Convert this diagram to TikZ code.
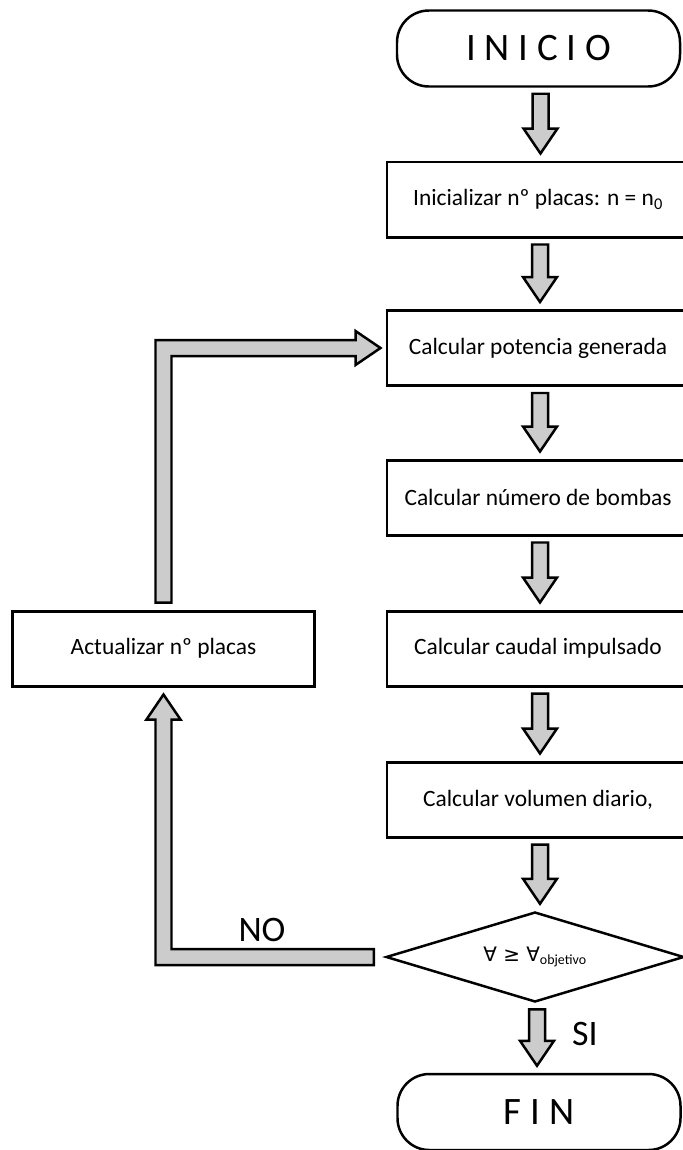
\documentclass[tikz,border=0pt]{standalone}
\usepackage{fontspec}
\setmainfont{Carlito}
\newfontfamily\symfont{DejaVu Sans}
\usetikzlibrary{positioning}
\usetikzlibrary{calc}
\usetikzlibrary{shapes.geometric}

\tikzset{
    terminal/.style={draw, line width=2.5pt, rounded corners=32pt, minimum width=283bp, minimum height=76bp, font=\fontsize{39}{42}\selectfont},
    process/.style={draw, line width=3pt, minimum width=302bp, minimum height=75bp, font=\fontsize{23.5}{26}\selectfont},
    decision/.style={draw, line width=2.5pt, shape=diamond, aspect=3.3, inner sep=0pt, minimum width=298bp, minimum height=90bp, font=\fontsize{20}{22}\selectfont},
    answer/.style={font=\fontsize{36}{40}\selectfont},
    fatarrow/.style={draw, line width=2.5pt, fill=black!20, line join=miter}
}

\newcommand{\fatdown}[2]{%
    \coordinate(tip) at ($(#1.south |- #2.north)+(2,-7)$);
    \draw[fatarrow]($(#1.south)+(-6,6)$)--($(tip)+(-8,-25)$)--($(tip)+(-17,-25)$)
        --(tip)--($(tip)+(17,-25)$)--($(tip)+(8,-25)$)--($(#1.south)+(10,6)$)--cycle;}

\begin{document}
\begin{tikzpicture}[x=1bp, y=-1bp]
                \useasboundingbox(0, 0) rectangle (683, 1150);

                \node[terminal](inicio) at (538.5, 48.5){I N I C I O};
                \node[process](init) at (538, 199.5){Inicializar nº placas: n = n\textsubscript{0}};
                \node[process](pot) at (538, 348){Calcular potencia generada};
                \node[process](bombas) at (538, 497.5){Calcular número de bombas};
                \node[process](caudal) at (538, 648.5){Calcular caudal impulsado};
                \node[process](vol) at (538, 799.5){Calcular volumen diario,};
                \node[decision](dec) at (535, 957){{\symfont ∀ ≥ ∀}\textsubscript{objetivo}};
                \node[terminal](fin) at (539, 1112){F I N};
                \node[process](upd) at (163.5, 648.5){Actualizar nº placas};

                \fatdown{inicio}{init}
                \fatdown{init}{pot}
                \fatdown{pot}{bombas}
                \fatdown{bombas}{caudal}
                \fatdown{caudal}{vol}
                \fatdown{vol}{dec}
                \fatdown{dec}{fin}

                \coordinate(notail) at ($(dec.west)+(-11, 0)$);
                \coordinate(uptip) at ($(upd.south)+(0, 7)$);
                \draw[fatarrow]($(notail)+(0, -8)$)--($(uptip |- notail)+(8, -8)$)--($(uptip)+(8, 25)$)--($(uptip)+(17, 25)$)
                    --(uptip)--($(uptip)+(-17, 25)$)--($(uptip)+(-8, 25)$)--($(uptip |- notail)+(-8, 8)$)--($(notail)+(0, 8)$)--cycle;

                \coordinate(backtip) at ($(pot.west)+(-5, 0)$);
                \coordinate(backtail) at ($(upd.north)+(0, -7)$);
                \draw[fatarrow]($(backtail)+(-8, 0)$)--($(backtail |- backtip)+(-8, -8)$)--($(backtip)+(-25, -8)$)--($(backtip)+(-25, -17)$)
                    --(backtip)--($(backtip)+(-25, 17)$)--($(backtip)+(-25, 8)$)--($(backtail |- backtip)+(8, 8)$)--($(backtail)+(8, 0)$)--cycle;

                \node[answer](no) at (262, 930){NO};
                \node[answer](si) at (585, 1034){SI};
            \end{tikzpicture}
\end{document}
